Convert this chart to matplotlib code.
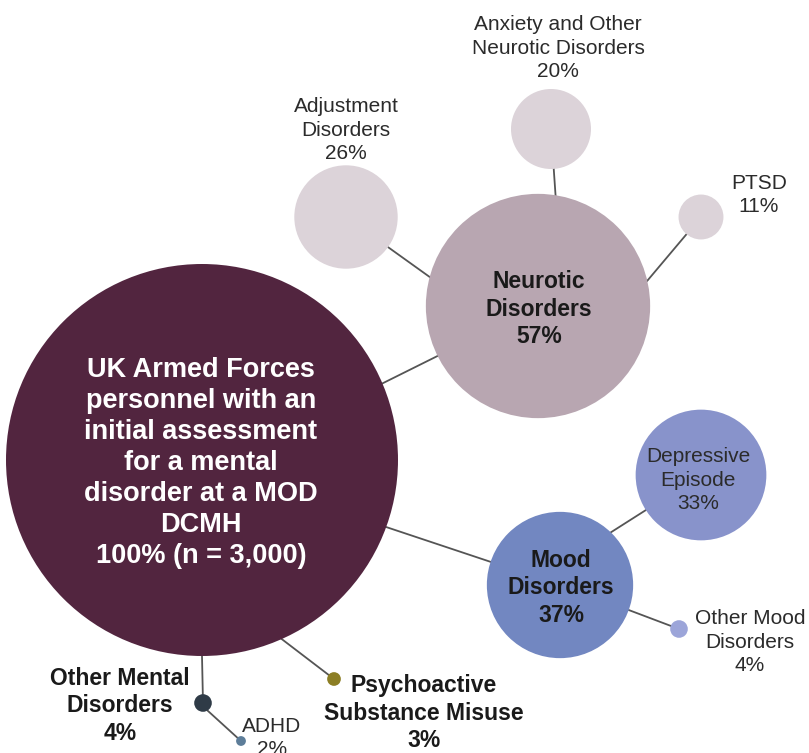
import numpy as np
import matplotlib
matplotlib.use("Agg")
from matplotlib import pyplot as plt
from matplotlib.patches import Circle

plt.rcParams['font.family'] = ['Liberation Sans', 'DejaVu Sans']

# Data
labels = [
    "UK Armed Forces\npersonnel with an\ninitial assessment\nfor a mental\ndisorder at a MOD\nDCMH",
    "Neurotic\nDisorders",
    "Adjustment\nDisorders",
    "Anxiety and Other\nNeurotic Disorders",
    "PTSD",
    "Mood\nDisorders",
    "Depressive\nEpisode",
    "Other Mood\nDisorders",
    "Other Mental\nDisorders",
    "ADHD",
    "Psychoactive\nSubstance Misuse",
]
pcts = [100, 57, 26, 20, 11, 37, 33, 4, 4, 2, 3]
pct_text = ["100% (n = 3,000)", "57%", "26%", "20%", "11%", "37%", "33%", "4%", "4%", "2%", "3%"]
parents = [None, 0, 1, 1, 1, 0, 5, 5, 0, 8, 0]

# Layout (pixel coords, y down)
centers = [(202, 460), (538, 306), (346, 217), (551, 129), (701, 217),
           (560, 585), (701, 475), (679, 629), (203, 703), (241, 741), (334, 679)]
exit_angle = [None, -23, -165, -81, -13, 20, -46, 20, 90, 59, 66]
label_pos = [(201, 463), (539, 309), (346, 130), (558, 48), (759, 195),
             (561, 588), (698, 480), (750, 642), (120, 706), (272, 738), (424, 713)]
colors = ['#52253F', '#B8A6B1', '#DCD3D9', '#DCD3D9', '#DCD3D9',
          '#7287C1', '#8893CB', '#9CA5D9', '#2F3B47', '#5D7D99', '#8C7E24']
text_colors = ['white', '#1a1a1a', '#2b2b2b', '#2b2b2b', '#2b2b2b',
               '#1a1a1a', '#2b2b2b', '#2b2b2b', '#1a1a1a', '#2b2b2b', '#1a1a1a']
bold = [True, True, False, False, False, True, False, False, True, False, True]
sizes = [19.5, 16.5, 15, 15, 15, 16.5, 15, 15, 16.5, 15, 16.5]


def radius(p):
    return 1.95 * p + 1


fig = plt.figure(figsize=(8.09, 7.53), dpi=100)
ax = fig.add_axes([0, 0, 1, 1])
ax.set_xlim(0, 809)
ax.set_ylim(753, 0)
ax.axis('off')

# connectors
for i, par in enumerate(parents):
    if par is None:
        continue
    px, py = centers[par]
    a = np.deg2rad(exit_angle[i])
    r = radius(pcts[par])
    sx, sy = px + r * np.cos(a), py + r * np.sin(a)
    ax.plot([sx, centers[i][0]], [sy, centers[i][1]], color='#555555', lw=1.3, zorder=1)

# bubbles
for i, p in enumerate(pcts):
    ax.add_patch(Circle(centers[i], radius(p), facecolor=colors[i], edgecolor='none', zorder=2))

# labels
for i, lab in enumerate(labels):
    x, y = label_pos[i]
    ax.text(x, y, lab + "\n" + pct_text[i], ha='center', va='center', ma='center',
            fontsize=sizes[i], fontweight='bold' if bold[i] else 'normal',
            color=text_colors[i], linespacing=1.25 if bold[i] else 1.33, zorder=3)

fig.savefig("out.png", dpi=100)
